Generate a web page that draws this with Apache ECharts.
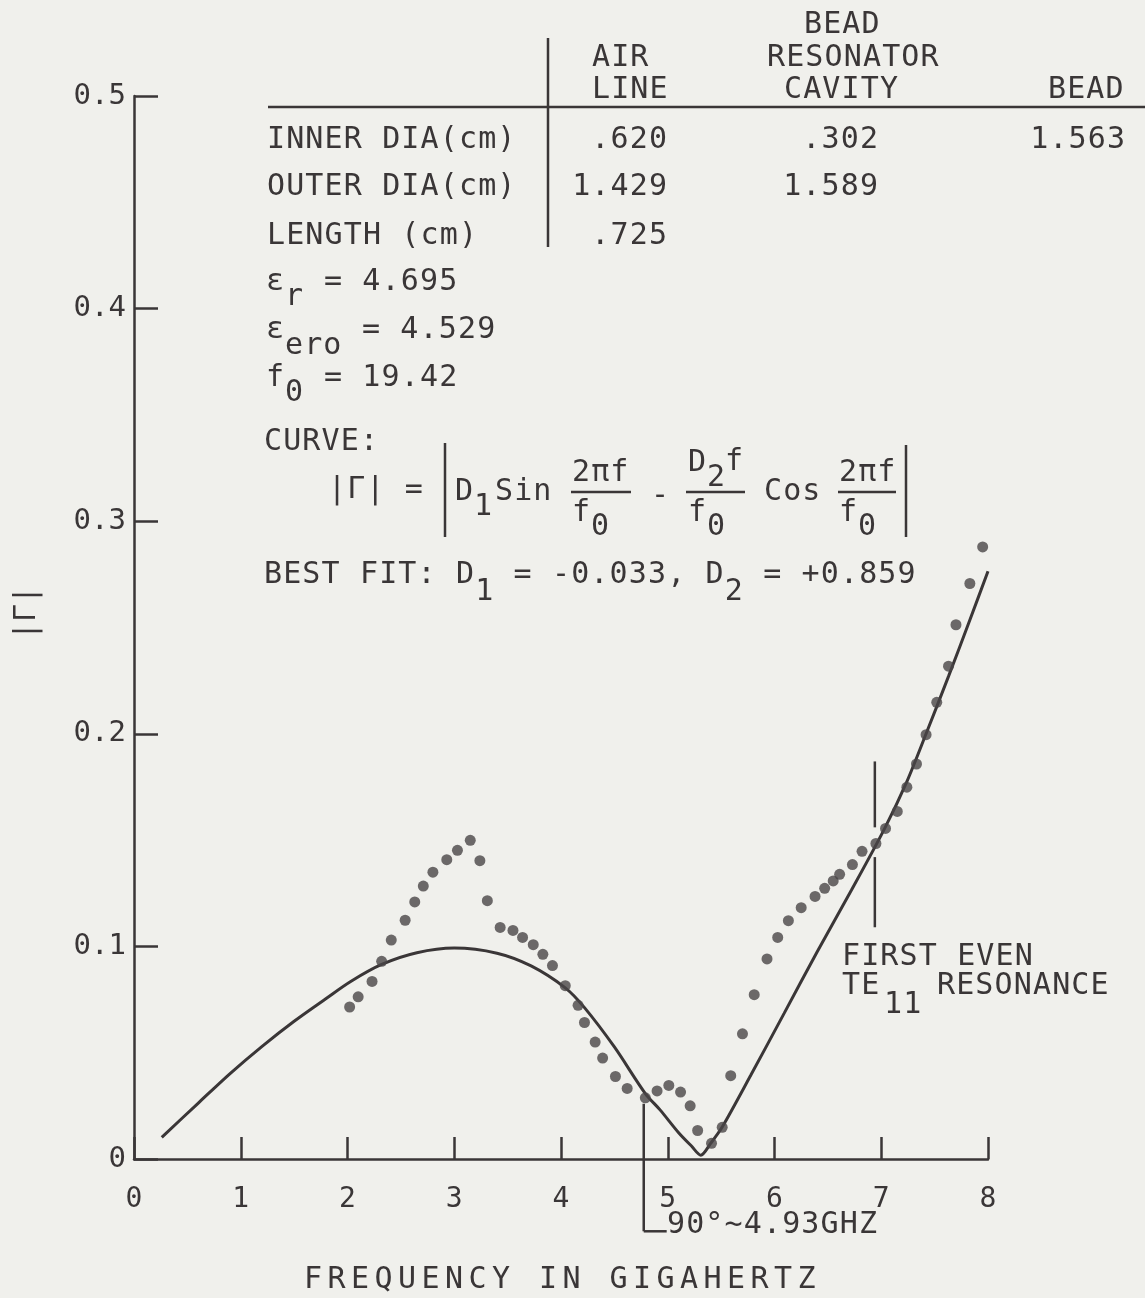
<!DOCTYPE html>
<html>
<head>
<meta charset="utf-8">
<script src="https://cdn.jsdelivr.net/npm/echarts@6/dist/echarts.min.js"></script>
<style>
html,body{margin:0;padding:0;background:#f0f0ec;}
#c{width:1145px;height:1298px;}
</style>
</head>
<body>
<div id="c"></div>
<script>
// ---- data ----
var xTicks = [0, 1, 2, 3, 4, 5, 6, 7, 8];
var yTicks = [0, 0.1, 0.2, 0.3, 0.4, 0.5];
var measuredPoints = [
  [2.02,0.0715],[2.10,0.0763],[2.23,0.0835],[2.32,0.0930],[2.41,0.1030],[2.54,0.1123],
  [2.63,0.1209],[2.71,0.1284],[2.80,0.1349],[2.93,0.1408],[3.03,0.1452],[3.15,0.1499],
  [3.24,0.1403],[3.31,0.1215],[3.43,0.1089],[3.55,0.1075],[3.64,0.1042],[3.74,0.1008],
  [3.83,0.0963],[3.92,0.0910],[4.04,0.0815],[4.16,0.0723],[4.22,0.0642],[4.32,0.0550],
  [4.39,0.0475],[4.51,0.0388],[4.62,0.0332],[4.79,0.0288],[4.90,0.0320],[5.01,0.0346],
  [5.12,0.0315],[5.21,0.0250],[5.28,0.0134],[5.41,0.0074],[5.51,0.0149],[5.59,0.0392],
  [5.70,0.0589],[5.81,0.0773],[5.93,0.0941],[6.03,0.1042],[6.13,0.1121],[6.25,0.1182],
  [6.38,0.1235],[6.47,0.1273],[6.55,0.1308],[6.61,0.1339],[6.73,0.1385],[6.82,0.1447],
  [6.95,0.1484],[7.04,0.1555],[7.15,0.1635],[7.24,0.1749],[7.33,0.1858],[7.42,0.1996],
  [7.52,0.2148],[7.63,0.2318],[7.70,0.2513],[7.83,0.2707],[7.95,0.2879]
];
var fitCurve = [
  [0.26,0.0102],[0.60,0.0262],[0.90,0.0402],[1.20,0.0530],[1.50,0.0648],[1.80,0.0755],
  [2.03,0.0835],[2.32,0.0915],[2.65,0.0970],[3.00,0.0992],[3.40,0.0968],[3.72,0.0908],
  [4.04,0.0805],[4.22,0.0712],[4.50,0.0527],[4.79,0.0308],[4.93,0.0230],[5.10,0.0125],
  [5.22,0.0062],[5.31,0.0018],[5.40,0.0072],[5.51,0.0150],[5.78,0.0396],[6.09,0.0685],
  [6.40,0.0975],[6.72,0.1264],[7.03,0.1553],[7.24,0.1775],[7.42,0.2000],[7.63,0.2270],
  [7.83,0.2535],[8.00,0.2765]
];
// marker segments [x1, y1, x2, y2] in data units
var markerSegments = [
  [6.94,0.187,6.94,0.156],
  [6.94,0.142,6.94,0.109],
  [4.775,0.026,4.775,-0.0340],
  [4.775,-0.0340,4.99,-0.0340]
];

var INK = '#3a3637';
var FONT = '"DejaVu Sans Mono", "Liberation Mono", monospace';
var PITCH = 19.2;

// typewriter text: one glyph per fixed pitch slot; x0 = left ink edge of first glyph
function S(str, x0, y, opts) {
  opts = opts || {};
  var p = opts.pitch || PITCH, size = opts.size || 30, out = [];
  for (var i = 0; i < str.length; i++) {
    var c = str.charAt(i);
    if (c === ' ') continue;
    out.push({type: 'text', silent: true, x: x0 + 8 + i * p, y: y,
      style: {text: c, fill: INK, font: size + 'px ' + FONT,
              textAlign: 'center', textVerticalAlign: 'middle'}});
  }
  return out;
}
function SR(str, xr, y, opts) { var p = (opts && opts.pitch) || PITCH; return S(str, xr - 16 - (str.length - 1) * p, y, opts); }
function L(x1, y1, x2, y2, w) {
  return [{ type: 'line', silent: true, shape: {x1:x1,y1:y1,x2:x2,y2:y2},
           style: {stroke: INK, lineWidth: w || 2.5} }];
}

var parts = [
  // table
  L(548, 38, 548, 247), L(268, 107, 1145, 107),
  S('BEAD', 805, 25),
  S('AIR', 593, 58), S('RESONATOR', 768, 58),
  S('LINE', 593, 90), S('CAVITY', 785, 90), S('BEAD', 1049, 90),
  S('INNER DIA(cm)', 268, 140), SR('.620', 666, 140), SR('.302', 877, 140), SR('1.563', 1124, 140),
  S('OUTER DIA(cm)', 268, 187), SR('1.429', 666, 187), SR('1.589', 877, 187),
  S('LENGTH (cm)', 268, 236), SR('.725', 666, 236),
  // constants
  S('\u03b5', 267, 282), S('r', 286, 297), S('= 4.695', 325, 282),
  S('\u03b5', 267, 330), S('ero', 286, 346), S('= 4.529', 363, 330),
  S('f', 267, 378), S('0', 286, 393), S('= 19.42', 325, 378),
  S('CURVE:', 265, 442),
  // formula
  S('|\u0393| =', 329, 490),
  L(445, 443, 445, 537), L(906, 445, 906, 537),
  S('D', 456, 492), S('1', 475, 507), S('Sin', 496, 492),
  S('2\u03c0f', 573, 473), L(571, 492, 631, 492), S('f', 573, 513), S('0', 592, 527),
  S('-', 652, 496),
  S('D', 689, 463), S('2', 708, 478), S('f', 726, 462), L(686, 492, 745, 492),
  S('f', 689, 513), S('0', 708, 527),
  S('Cos', 765, 492),
  S('2\u03c0f', 840, 473), L(838, 492, 896, 492), S('f', 840, 513), S('0', 859, 527),
  // best fit
  S('BEST FIT: D', 265, 575), S('1', 265 + 11 * PITCH, 592),
  S('= -0.033, D', 265 + 13 * PITCH, 575), S('2', 265 + 24 * PITCH, 592),
  S('= +0.859', 265 + 26 * PITCH, 575),
  // annotations
  S('FIRST EVEN', 843, 957), S('TE', 843, 986), S('11', 885, 1005), S('RESONANCE', 938, 986),
  S('90\u00b0~4.93GHZ', 668, 1225),
  // x axis name
  S('FREQUENCY IN GIGAHERTZ', 305, 1280, {pitch: 23.5})
];
var graphics = [].concat.apply([], parts);
graphics.push({type: 'text', silent: true, x: 27, y: 613, rotation: Math.PI / 2,
  style: {text: '|\u0393|', fill: INK, font: '30px ' + FONT, textAlign: 'center', textVerticalAlign: 'middle'}});

var chart = echarts.init(document.getElementById('c'), null, {renderer:'canvas'});
chart.setOption({
  backgroundColor: '#f0f0ec',
  animation: false,
  grid: {left: 134, right: 157, top: 96, bottom: 139, containLabel: false},
  xAxis: {
    type: 'value', min: xTicks[0], max: xTicks[xTicks.length-1], interval: 1,
    axisLine: {lineStyle: {color: INK, width: 2.5}},
    axisTick: {inside: true, length: 22, lineStyle: {color: INK, width: 2.5}},
    axisLabel: {color: INK, fontSize: 28, fontFamily: FONT, margin: 27},
    splitLine: {show: false}
  },
  yAxis: {
    type: 'value', min: yTicks[0], max: yTicks[yTicks.length-1], interval: 0.1,
    axisLine: {lineStyle: {color: INK, width: 2.5}},
    axisTick: {inside: true, length: 24, lineStyle: {color: INK, width: 2.5}},
    axisLabel: {color: INK, fontSize: 29, fontFamily: FONT, margin: 8,
      formatter: function (v) { return v === 0 ? '0' : v.toFixed(1); }},
    splitLine: {show: false}
  },
  series: [
    {
      type: 'line', data: fitCurve, showSymbol: false, smooth: 0.3,
      lineStyle: {color: INK, width: 3}, z: 3
    },
    {
      type: 'scatter', data: measuredPoints, symbolSize: 11,
      itemStyle: {color: '#4a4647'}, z: 4
    },
    {
      type: 'custom', data: markerSegments, clip: false, z: 2,
      renderItem: function (params, api) {
        var p1 = api.coord([api.value(0), api.value(1)]);
        var p2 = api.coord([api.value(2), api.value(3)]);
        return {type: 'line', shape: {x1:p1[0], y1:p1[1], x2:p2[0], y2:p2[1]},
                style: {stroke: INK, lineWidth: 2.5}};
      }
    }
  ],
  graphic: graphics
});
</script>
</body>
</html>
